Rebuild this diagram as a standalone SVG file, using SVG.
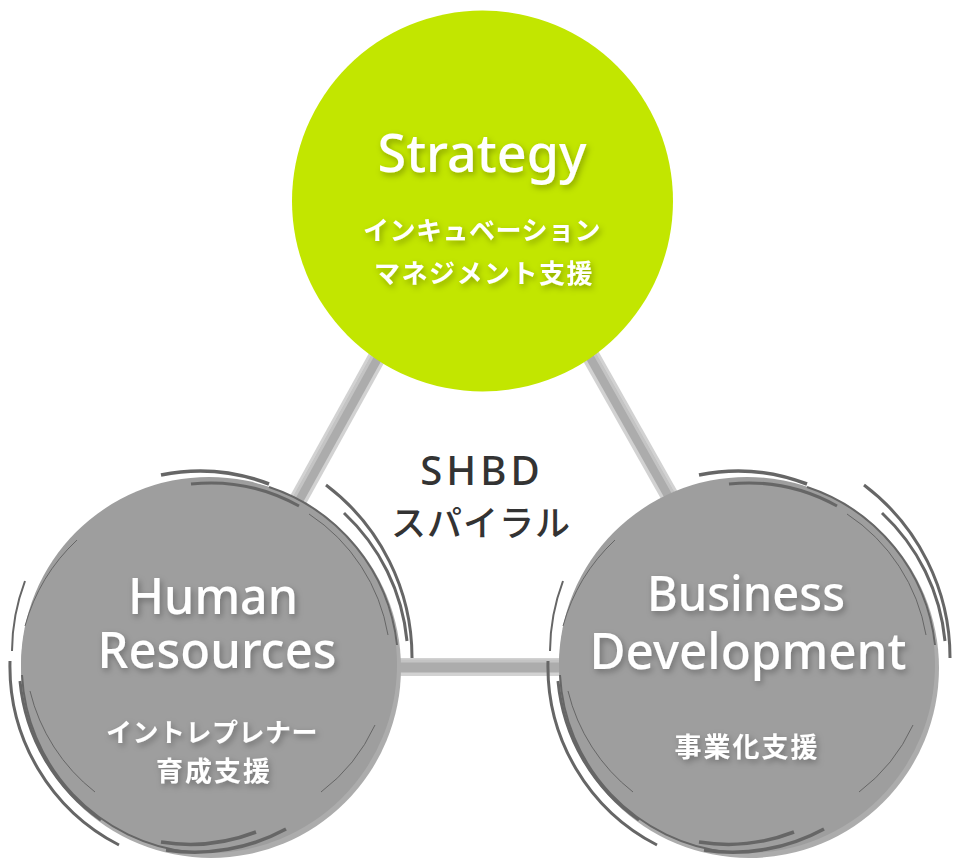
<svg xmlns="http://www.w3.org/2000/svg" xmlns:xlink="http://www.w3.org/1999/xlink" width="960" height="860" viewBox="0 0 960 860">
<style>
.lat{font-family:"Noto Sans","Liberation Sans",sans-serif;font-weight:500;fill:#fff;text-anchor:middle}
.jp{font-family:"Noto Sans CJK JP","Noto Sans",sans-serif;font-weight:700;fill:#fff;text-anchor:middle}
.ctr{font-family:"Noto Sans","Noto Sans CJK JP",sans-serif;font-weight:500;fill:#333;text-anchor:middle}
.arc{fill:none;stroke:#666;stroke-linecap:butt}
.bar1{stroke:#d2d2d2;stroke-width:18}
.bar2{stroke:#acacac;stroke-width:11}
.bar3{stroke:#c4c4c4;stroke-width:3}
</style>
<defs>
<filter id="sh" x="-20%" y="-40%" width="140%" height="180%">
<feDropShadow dx="2" dy="3" stdDeviation="3" flood-color="#000" flood-opacity="0.3"/>
</filter>
<g id="ring">
<circle cx="2" cy="3" r="190" fill="#acacac"/>
<circle cx="0" cy="0" r="188" fill="#9e9e9e"/>
<path class="arc" stroke-width="3.5" d="M -48,-190 A 191 191 0 0 1 60,-181"/>
<path class="arc" stroke-width="3" d="M -18,-181 A 183 183 0 0 1 90,-159"/>
<path class="arc" stroke-width="2" stroke="#707070" d="M 60,-178 A 188 188 0 0 1 188,-20"/>
<path class="arc" stroke-width="1" stroke="#777" d="M 100,-151 A 181 181 0 0 1 179,-30"/>
<path class="arc" stroke-width="3" d="M 117,-180 A 216 216 0 0 1 203,-7"/>
<path class="arc" stroke-width="3" d="M 135,-152 A 201 201 0 0 1 198,-24"/>
<path class="arc" stroke-width="3" d="M -199,-4 A 201 201 0 0 0 -90,180"/>
<path class="arc" stroke-width="3" d="M -189,16 A 191 191 0 0 0 -108,155"/>
<path class="arc" stroke-width="2" d="M -184,-84 A 201 201 0 0 0 -197,-14"/>
<path class="arc" stroke-width="1" stroke="#777" d="M -132,-125 A 186 186 0 0 0 -184,-39"/>
<path class="arc" stroke-width="2" stroke="#707070" d="M -187,10 A 188 188 0 0 0 -20,187"/>
<path class="arc" stroke-width="1" stroke="#777" d="M -179,26 A 183 183 0 0 0 -114,127"/>
<path class="arc" stroke-width="3.5" d="M -48,177 A 183 183 0 0 0 47,167"/>
<path class="arc" stroke-width="3.5" d="M -43,185 A 191 191 0 0 0 77,164"/>
<path class="arc" stroke-width="1" stroke="#777" d="M 112,127 A 176 176 0 0 0 166,60"/>
</g>
</defs>
<rect width="960" height="860" fill="#fff"/>
<g id="connectors">
<line class="bar1" x1="392" y1="330" x2="298" y2="500"/>
<line class="bar2" x1="392" y1="330" x2="298" y2="500"/>
<line class="bar3" x1="388" y1="328" x2="294" y2="498"/>
<line class="bar1" x1="576" y1="330" x2="672" y2="500"/>
<line class="bar2" x1="576" y1="330" x2="672" y2="500"/>
<line class="bar3" x1="580" y1="328" x2="676" y2="498"/>
<line class="bar1" x1="395" y1="667" x2="560" y2="667"/>
<line class="bar2" x1="395" y1="667" x2="560" y2="667"/>
<line class="bar3" x1="395" y1="661" x2="560" y2="661"/>
</g>
<g id="strategy">
<circle cx="482.5" cy="201" r="190.5" fill="#c2e600"/>
<g filter="url(#sh)">
<text class="lat" x="482" y="172" font-size="52" textLength="209" lengthAdjust="spacingAndGlyphs">Strategy</text>
<text class="jp" x="482" y="240" font-size="26" letter-spacing="0.5">インキュベーション</text>
<text class="jp" x="484" y="283" font-size="26" letter-spacing="1.5">マネジメント支援</text>
</g>
</g>
<g id="human-resources">
<use xlink:href="#ring" transform="translate(209,665)"/>
<g filter="url(#sh)">
<text class="lat" x="213" y="614" font-size="50" textLength="170" lengthAdjust="spacingAndGlyphs">Human</text>
<text class="lat" x="217" y="668" font-size="50" textLength="239" lengthAdjust="spacingAndGlyphs">Resources</text>
<text class="jp" x="212" y="742" font-size="26" letter-spacing="0.5">イントレプレナー</text>
<text class="jp" x="214" y="781" font-size="27" letter-spacing="2">育成支援</text>
</g>
</g>
<g id="business-development">
<use xlink:href="#ring" transform="translate(747,665)"/>
<g filter="url(#sh)">
<text class="lat" x="746" y="611" font-size="49" textLength="198" lengthAdjust="spacingAndGlyphs">Business</text>
<text class="lat" x="748" y="669" font-size="50" textLength="317" lengthAdjust="spacingAndGlyphs">Development</text>
<text class="jp" x="747" y="757" font-size="27" letter-spacing="2">事業化支援</text>
</g>
</g>
<g id="center-label">
<text class="ctr" x="482" y="485" font-size="40" letter-spacing="4">SHBD</text>
<text class="ctr" x="481" y="536" font-size="35" letter-spacing="1">スパイラル</text>
</g>
</svg>
